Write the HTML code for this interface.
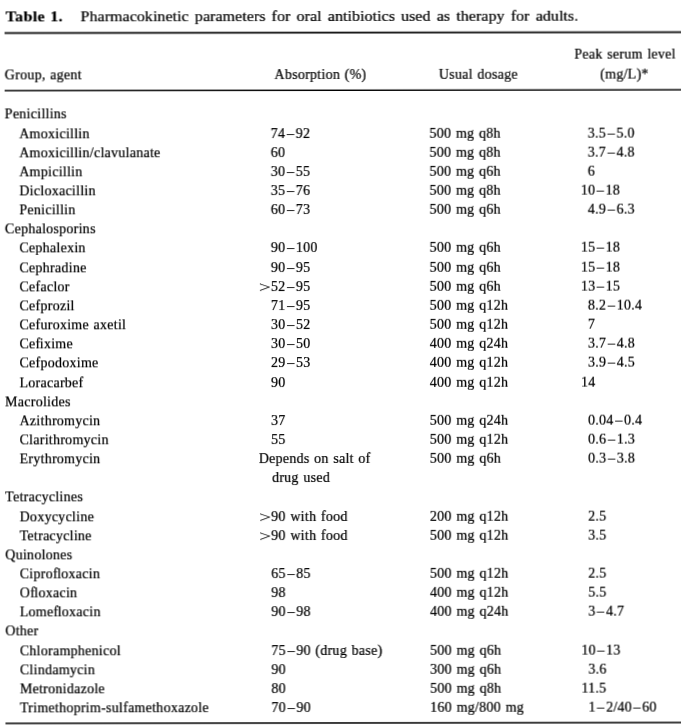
<!DOCTYPE html>
<html><head><meta charset="utf-8"><title>Table 1</title>
<style>
html,body{margin:0;padding:0;background:#fff;}
body{width:681px;height:726px;position:relative;overflow:hidden;font-family:"Liberation Serif","Times New Roman",serif;color:#000;-webkit-text-stroke:0.22px #000;font-size:14px;line-height:16px;}
.t{position:absolute;white-space:nowrap;height:16px;word-spacing:0.85px;}
.r{position:absolute;left:5px;width:680px;background:#222;}
.cap{font-size:15px;transform:scaleX(1.0667);transform-origin:0 0;}
#w{position:absolute;left:0;top:0;width:681px;height:726px;will-change:transform;transform:rotate(-0.075deg);transform-origin:340px 363px;}
i{font-style:normal;}
i.d{margin:0 1.5px;}
i.f{letter-spacing:-0.5px;}
i.gt{display:inline-block;width:12.3px;margin-left:-12.3px;transform:translateY(0.8px) scale(1.5,1);transform-origin:0 50%;letter-spacing:0;-webkit-text-stroke:0.1px #000;}
</style></head><body><div id="w">
<div class="t cap" style="left:6.4px;top:8.32px;letter-spacing:0.34px;"><b>Table 1.</b></div>
<div class="t cap" style="left:81px;top:8.32px;letter-spacing:0.042px;word-spacing:1.97px;">Pharmacokinetic parameters for oral antibiotics used as therapy for adults.</div>
<div class="r" style="top:31px;height:1px;background:rgba(0,0,0,0.3)"></div>
<div class="r" style="top:32px;height:1px;background:rgba(0,0,0,0.9)"></div>
<div class="r" style="top:33px;height:1px;background:rgba(0,0,0,0.5)"></div>
<div class="r" style="top:89px;height:1px;background:rgba(0,0,0,0.45)"></div>
<div class="r" style="top:90px;height:1px;background:rgba(0,0,0,1.0)"></div>
<div class="r" style="top:722px;height:1px;background:rgba(0,0,0,0.78)"></div>
<div class="r" style="top:723px;height:1px;background:rgba(0,0,0,0.72)"></div>
<div class="t" style="left:5.1px;top:67.02px;letter-spacing:0.26px;">Group, agent</div>
<div class="t" style="left:274.8px;top:67.02px;letter-spacing:0.26px;">Absorption (%)</div>
<div class="t" style="left:439.2px;top:67.02px;letter-spacing:0.26px;">Usual dosage</div>
<div class="t" style="left:574.7px;top:47.32px;letter-spacing:0.26px;">Peak serum level</div>
<div class="t" style="left:600.6px;top:67.02px;letter-spacing:0.26px;">(mg/L)*</div>
<div class="t" style="left:5.1px;top:106.42px;letter-spacing:0.26px;">Penicillins</div>
<div class="t" style="left:19.5px;top:125.57px;letter-spacing:0.26px;">Amoxicillin</div>
<div class="t" style="left:271.1px;top:125.57px;letter-spacing:0.26px;">74<i class="d">–</i>92</div>
<div class="t" style="left:429.8px;top:125.57px;letter-spacing:0.26px;">500 mg q8h</div>
<div class="t" style="left:588.1px;top:125.57px;letter-spacing:0.26px;">3.5<i class="d">–</i>5.0</div>
<div class="t" style="left:19.5px;top:144.72px;letter-spacing:0.26px;">Amoxicillin/clavulanate</div>
<div class="t" style="left:271.1px;top:144.72px;letter-spacing:0.26px;">60</div>
<div class="t" style="left:429.8px;top:144.72px;letter-spacing:0.26px;">500 mg q8h</div>
<div class="t" style="left:588.1px;top:144.72px;letter-spacing:0.26px;">3.7<i class="d">–</i>4.8</div>
<div class="t" style="left:19.5px;top:163.87px;letter-spacing:0.26px;">Ampicillin</div>
<div class="t" style="left:271.1px;top:163.87px;letter-spacing:0.26px;">30<i class="d">–</i>55</div>
<div class="t" style="left:429.8px;top:163.87px;letter-spacing:0.26px;">500 mg q6h</div>
<div class="t" style="left:588.1px;top:163.87px;letter-spacing:0.26px;">6</div>
<div class="t" style="left:19.5px;top:183.02px;letter-spacing:0.26px;">Dicloxacillin</div>
<div class="t" style="left:271.1px;top:183.02px;letter-spacing:0.26px;">35<i class="d">–</i>76</div>
<div class="t" style="left:429.8px;top:183.02px;letter-spacing:0.26px;">500 mg q8h</div>
<div class="t" style="left:580.9px;top:183.02px;letter-spacing:0.26px;">10<i class="d">–</i>18</div>
<div class="t" style="left:19.5px;top:202.17px;letter-spacing:0.26px;">Penicillin</div>
<div class="t" style="left:271.1px;top:202.17px;letter-spacing:0.26px;">60<i class="d">–</i>73</div>
<div class="t" style="left:429.8px;top:202.17px;letter-spacing:0.26px;">500 mg q6h</div>
<div class="t" style="left:588.1px;top:202.17px;letter-spacing:0.26px;">4.9<i class="d">–</i>6.3</div>
<div class="t" style="left:5.1px;top:221.32px;letter-spacing:0.26px;">Cephalosporins</div>
<div class="t" style="left:19.5px;top:240.47px;letter-spacing:0.26px;">Cephalexin</div>
<div class="t" style="left:271.1px;top:240.47px;letter-spacing:0.26px;">90<i class="d">–</i>100</div>
<div class="t" style="left:429.8px;top:240.47px;letter-spacing:0.26px;">500 mg q6h</div>
<div class="t" style="left:580.9px;top:240.47px;letter-spacing:0.26px;">15<i class="d">–</i>18</div>
<div class="t" style="left:19.5px;top:259.62px;letter-spacing:0.26px;">Cephradine</div>
<div class="t" style="left:271.1px;top:259.62px;letter-spacing:0.26px;">90<i class="d">–</i>95</div>
<div class="t" style="left:429.8px;top:259.62px;letter-spacing:0.26px;">500 mg q6h</div>
<div class="t" style="left:580.9px;top:259.62px;letter-spacing:0.26px;">15<i class="d">–</i>18</div>
<div class="t" style="left:19.5px;top:278.77px;letter-spacing:0.26px;">Cefaclor</div>
<div class="t" style="left:271.1px;top:278.77px;letter-spacing:0.26px;"><i class="gt">&gt;</i>52<i class="d">–</i>95</div>
<div class="t" style="left:429.8px;top:278.77px;letter-spacing:0.26px;">500 mg q6h</div>
<div class="t" style="left:580.9px;top:278.77px;letter-spacing:0.26px;">13<i class="d">–</i>15</div>
<div class="t" style="left:19.5px;top:297.92px;letter-spacing:0.26px;">Cefprozil</div>
<div class="t" style="left:271.1px;top:297.92px;letter-spacing:0.26px;">71<i class="d">–</i>95</div>
<div class="t" style="left:429.8px;top:297.92px;letter-spacing:0.26px;">500 mg q12h</div>
<div class="t" style="left:588.1px;top:297.92px;letter-spacing:0.26px;">8.2<i class="d">–</i>10.4</div>
<div class="t" style="left:19.5px;top:317.07px;letter-spacing:0.26px;">Cefuroxime axetil</div>
<div class="t" style="left:271.1px;top:317.07px;letter-spacing:0.26px;">30<i class="d">–</i>52</div>
<div class="t" style="left:429.8px;top:317.07px;letter-spacing:0.26px;">500 mg q12h</div>
<div class="t" style="left:588.1px;top:317.07px;letter-spacing:0.26px;">7</div>
<div class="t" style="left:19.5px;top:336.22px;letter-spacing:0.26px;">Ce<i class="f">f</i>ixime</div>
<div class="t" style="left:271.1px;top:336.22px;letter-spacing:0.26px;">30<i class="d">–</i>50</div>
<div class="t" style="left:429.8px;top:336.22px;letter-spacing:0.26px;">400 mg q24h</div>
<div class="t" style="left:588.1px;top:336.22px;letter-spacing:0.26px;">3.7<i class="d">–</i>4.8</div>
<div class="t" style="left:19.5px;top:355.37px;letter-spacing:0.26px;">Cefpodoxime</div>
<div class="t" style="left:271.1px;top:355.37px;letter-spacing:0.26px;">29<i class="d">–</i>53</div>
<div class="t" style="left:429.8px;top:355.37px;letter-spacing:0.26px;">400 mg q12h</div>
<div class="t" style="left:588.1px;top:355.37px;letter-spacing:0.26px;">3.9<i class="d">–</i>4.5</div>
<div class="t" style="left:19.5px;top:374.52px;letter-spacing:0.26px;">Loracarbef</div>
<div class="t" style="left:271.1px;top:374.52px;letter-spacing:0.26px;">90</div>
<div class="t" style="left:429.8px;top:374.52px;letter-spacing:0.26px;">400 mg q12h</div>
<div class="t" style="left:580.9px;top:374.52px;letter-spacing:0.26px;">14</div>
<div class="t" style="left:5.1px;top:393.67px;letter-spacing:0.26px;">Macrolides</div>
<div class="t" style="left:19.5px;top:412.82px;letter-spacing:0.26px;">Azithromycin</div>
<div class="t" style="left:271.1px;top:412.82px;letter-spacing:0.26px;">37</div>
<div class="t" style="left:429.8px;top:412.82px;letter-spacing:0.26px;">500 mg q24h</div>
<div class="t" style="left:588.1px;top:412.82px;letter-spacing:0.26px;">0.04<i class="d">–</i>0.4</div>
<div class="t" style="left:19.5px;top:431.97px;letter-spacing:0.26px;">Clarithromycin</div>
<div class="t" style="left:271.1px;top:431.97px;letter-spacing:0.26px;">55</div>
<div class="t" style="left:429.8px;top:431.97px;letter-spacing:0.26px;">500 mg q12h</div>
<div class="t" style="left:588.1px;top:431.97px;letter-spacing:0.26px;">0.6<i class="d">–</i>1.3</div>
<div class="t" style="left:19.5px;top:451.12px;letter-spacing:0.26px;">Erythromycin</div>
<div class="t" style="left:258.7px;top:451.12px;letter-spacing:0.26px;">Depends on salt of</div>
<div class="t" style="left:429.8px;top:451.12px;letter-spacing:0.26px;">500 mg q6h</div>
<div class="t" style="left:588.1px;top:451.12px;letter-spacing:0.26px;">0.3<i class="d">–</i>3.8</div>
<div class="t" style="left:271.9px;top:470.27px;letter-spacing:0.26px;">drug used</div>
<div class="t" style="left:5.1px;top:489.42px;letter-spacing:0.26px;">Tetracyclines</div>
<div class="t" style="left:19.5px;top:508.57px;letter-spacing:0.26px;">Doxycycline</div>
<div class="t" style="left:271.1px;top:508.57px;letter-spacing:0.26px;"><i class="gt">&gt;</i>90 with food</div>
<div class="t" style="left:429.8px;top:508.57px;letter-spacing:0.26px;">200 mg q12h</div>
<div class="t" style="left:588.1px;top:508.57px;letter-spacing:0.26px;">2.5</div>
<div class="t" style="left:19.5px;top:527.72px;letter-spacing:0.26px;">Tetracycline</div>
<div class="t" style="left:271.1px;top:527.72px;letter-spacing:0.26px;"><i class="gt">&gt;</i>90 with food</div>
<div class="t" style="left:429.8px;top:527.72px;letter-spacing:0.26px;">500 mg q12h</div>
<div class="t" style="left:588.1px;top:527.72px;letter-spacing:0.26px;">3.5</div>
<div class="t" style="left:5.1px;top:546.87px;letter-spacing:0.26px;">Quinolones</div>
<div class="t" style="left:19.5px;top:566.02px;letter-spacing:0.26px;">Cipro<i class="f">f</i>loxacin</div>
<div class="t" style="left:271.1px;top:566.02px;letter-spacing:0.26px;">65<i class="d">–</i>85</div>
<div class="t" style="left:429.8px;top:566.02px;letter-spacing:0.26px;">500 mg q12h</div>
<div class="t" style="left:588.1px;top:566.02px;letter-spacing:0.26px;">2.5</div>
<div class="t" style="left:19.5px;top:585.17px;letter-spacing:0.26px;">O<i class="f">f</i>loxacin</div>
<div class="t" style="left:271.1px;top:585.17px;letter-spacing:0.26px;">98</div>
<div class="t" style="left:429.8px;top:585.17px;letter-spacing:0.26px;">400 mg q12h</div>
<div class="t" style="left:588.1px;top:585.17px;letter-spacing:0.26px;">5.5</div>
<div class="t" style="left:19.5px;top:604.32px;letter-spacing:0.26px;">Lome<i class="f">f</i>loxacin</div>
<div class="t" style="left:271.1px;top:604.32px;letter-spacing:0.26px;">90<i class="d">–</i>98</div>
<div class="t" style="left:429.8px;top:604.32px;letter-spacing:0.26px;">400 mg q24h</div>
<div class="t" style="left:588.1px;top:604.32px;letter-spacing:0.26px;">3<i class="d">–</i>4.7</div>
<div class="t" style="left:5.1px;top:623.47px;letter-spacing:0.26px;">Other</div>
<div class="t" style="left:19.5px;top:642.62px;letter-spacing:0.26px;">Chloramphenicol</div>
<div class="t" style="left:271.1px;top:642.62px;letter-spacing:0.26px;">75<i class="d">–</i>90 (drug base)</div>
<div class="t" style="left:429.8px;top:642.62px;letter-spacing:0.26px;">500 mg q6h</div>
<div class="t" style="left:580.9px;top:642.62px;letter-spacing:0.26px;">10<i class="d">–</i>13</div>
<div class="t" style="left:19.5px;top:661.77px;letter-spacing:0.26px;">Clindamycin</div>
<div class="t" style="left:271.1px;top:661.77px;letter-spacing:0.26px;">90</div>
<div class="t" style="left:429.8px;top:661.77px;letter-spacing:0.26px;">300 mg q6h</div>
<div class="t" style="left:588.1px;top:661.77px;letter-spacing:0.26px;">3.6</div>
<div class="t" style="left:19.5px;top:680.92px;letter-spacing:0.26px;">Metronidazole</div>
<div class="t" style="left:271.1px;top:680.92px;letter-spacing:0.26px;">80</div>
<div class="t" style="left:429.8px;top:680.92px;letter-spacing:0.26px;">500 mg q8h</div>
<div class="t" style="left:580.9px;top:680.92px;letter-spacing:0.26px;">11.5</div>
<div class="t" style="left:19.5px;top:700.07px;letter-spacing:0.26px;">Trimethoprim-sulfamethoxazole</div>
<div class="t" style="left:271.1px;top:700.07px;letter-spacing:0.26px;">70<i class="d">–</i>90</div>
<div class="t" style="left:429.8px;top:700.07px;letter-spacing:0.26px;">160 mg/800 mg</div>
<div class="t" style="left:588.1px;top:700.07px;letter-spacing:0.26px;">1<i class="d">–</i>2/40<i class="d">–</i>60</div>
</div></body></html>
